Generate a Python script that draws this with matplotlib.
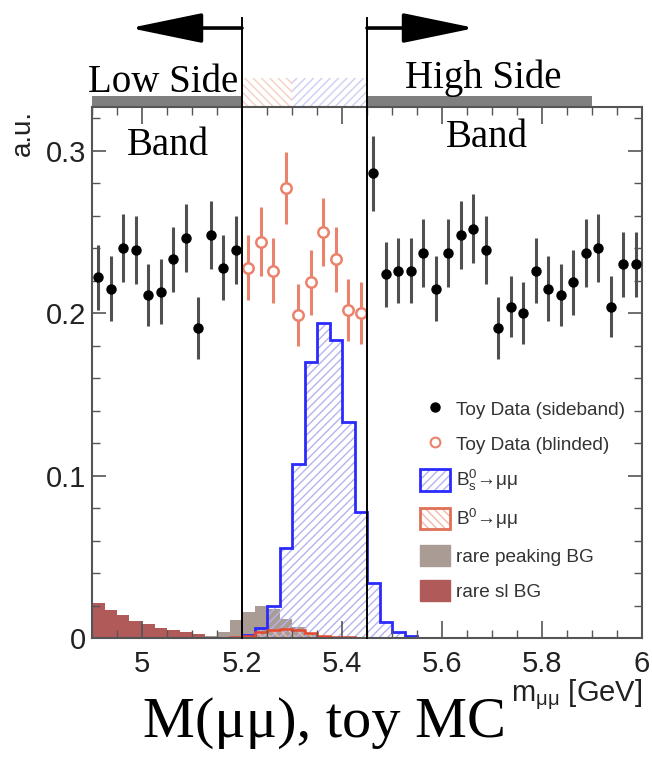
import numpy as np
import matplotlib.pyplot as plt
from matplotlib.patches import Patch, Rectangle
from matplotlib.lines import Line2D

# ---- data ----
edges = np.round(np.arange(4.9, 6.0001, 0.025), 4)    # 44 bins
centres = 0.5 * (edges[:-1] + edges[1:])

# toy data, sidebands (12 low + 22 high bins) and blinded region (10 bins)
low_side = [0.222, 0.215, 0.240, 0.239, 0.211, 0.213, 0.233, 0.246, 0.191, 0.248, 0.228, 0.239]
low_err = [0.020, 0.020, 0.021, 0.021, 0.019, 0.020, 0.020, 0.021, 0.019, 0.021, 0.020, 0.021]
blinded = [0.228, 0.244, 0.226, 0.277, 0.199, 0.219, 0.250, 0.233, 0.202, 0.200]
blinded_err = [0.020, 0.021, 0.020, 0.022, 0.019, 0.020, 0.021, 0.020, 0.019, 0.019]
high_side = [0.286, 0.224, 0.226, 0.226, 0.237, 0.215, 0.237, 0.248, 0.252, 0.239, 0.191,
             0.204, 0.200, 0.226, 0.215, 0.211, 0.219, 0.237, 0.240, 0.204, 0.230, 0.230]
high_err = [0.023, 0.020, 0.020, 0.020, 0.021, 0.020, 0.021, 0.021, 0.021, 0.021, 0.019,
            0.019, 0.019, 0.020, 0.020, 0.019, 0.020, 0.021, 0.021, 0.019, 0.020, 0.020]

# MC templates, one value per bin
bs_mumu = [0, 0, 0, 0, 0, 0, 0, 0, 0, 0, 0, 0,
           0.002, 0.006, 0.0197, 0.0552, 0.1069, 0.1697, 0.194, 0.1834, 0.1331, 0.0777,
           0.0336, 0.010, 0.0035, 0.001, 0, 0, 0, 0, 0, 0, 0,
           0, 0, 0, 0, 0, 0, 0, 0, 0, 0, 0]
bd_mumu = [0, 0, 0, 0, 0, 0, 0, 0, 0, 0, 0, 0.0005,
           0.001, 0.0035, 0.005, 0.0053, 0.0047, 0.003, 0.0015, 0.0008, 0.0004, 0.0002,
           0, 0, 0, 0, 0, 0, 0, 0, 0, 0, 0,
           0, 0, 0, 0, 0, 0, 0, 0, 0, 0, 0]
rare_peak = [0, 0, 0, 0, 0, 0, 0, 0, 0, 0.001, 0.0039, 0.011,
             0.016, 0.0197, 0.018, 0.012, 0.0065, 0.003, 0.0015, 0.0007, 0, 0,
             0, 0, 0, 0, 0, 0, 0, 0, 0, 0, 0,
             0, 0, 0, 0, 0, 0, 0, 0, 0, 0, 0]
rare_sl = [0.0213, 0.0172, 0.0142, 0.0107, 0.0084, 0.0064, 0.0049, 0.0035, 0.0025, 0.0015, 0.0011, 0.0009,
           0.0008, 0.0008, 0.0007, 0.0007, 0.0006, 0.0006, 0.0006, 0.0005, 0.0005, 0.0005,
           0.0005, 0.0004, 0.0004, 0.0004, 0.0004, 0.0004, 0.0003, 0.0003, 0.0003, 0.0003, 0.0003,
           0.0003, 0.0003, 0.0003, 0.0003, 0.0003, 0.0003, 0.0003, 0.0003, 0.0003, 0.0003, 0.0003]

xticks = [5.0, 5.2, 5.4, 5.6, 5.8, 6.0]
xtick_labels = ['5', '5.2', '5.4', '5.6', '5.8', '6']
yticks = [0.0, 0.1, 0.2, 0.3]
ytick_labels = ['0', '0.1', '0.2', '0.3']
cut_low, cut_high = 5.2, 5.45

# ---- style ----
plt.rcParams['font.family'] = ['Liberation Sans', 'DejaVu Sans']
plt.rcParams['mathtext.fontset'] = 'custom'
plt.rcParams['mathtext.rm'] = 'Liberation Sans'
plt.rcParams['mathtext.it'] = 'Liberation Sans:italic'
plt.rcParams['hatch.linewidth'] = 1.0

W, H = 652, 760
def fx(px):
    return px / W
def fy(py):
    return 1 - py / H

fig = plt.figure(figsize=(6.52, 7.6), dpi=100)
ax = fig.add_axes([fx(92), fy(638), 550 / W, 531 / H])

c_sl = '#b15a5a'
c_peak = '#aa9c95'
c_bs = '#2a2aff'
c_bs_hatch = '#b4b4ee'
c_bd = '#e8472c'
c_bd_hatch = '#f2b8a8'
c_blind = '#ea826c'

ax.stairs(rare_sl, edges, fill=True, color=c_sl, lw=0)
ax.stairs(rare_peak, edges, fill=True, color=c_peak, lw=0)
ax.stairs(bs_mumu, edges, fill=True, facecolor='none', edgecolor=c_bs_hatch, hatch='////', lw=0)
ax.stairs(bs_mumu, edges, color=c_bs, lw=2)
ax.stairs(bd_mumu, edges, fill=True, facecolor='none', edgecolor=c_bd_hatch, hatch='\\\\\\\\', lw=0)
ax.stairs(bd_mumu, edges, color=c_bd, lw=1.8)

n_low = len(low_side)
n_blind = len(blinded)
x_low = centres[:n_low]
x_blind = centres[n_low:n_low + n_blind]
x_high = centres[n_low + n_blind:]

ax.errorbar(x_low, low_side, yerr=low_err, fmt='o', color='black', ms=6.5,
            ecolor='#505050', elinewidth=2.2, capsize=0, zorder=5)
ax.errorbar(x_high, high_side, yerr=high_err, fmt='o', color='black', ms=6.5,
            ecolor='#505050', elinewidth=2.2, capsize=0, zorder=5, clip_on=False)
ax.errorbar(x_blind, blinded, yerr=blinded_err, fmt='o', color=c_blind, mfc='white',
            mec=c_blind, mew=1.8, ms=7.5, ecolor=c_blind, elinewidth=2.2, capsize=0, zorder=5)

# cut lines reaching above the frame
y_top = 0.3815
for xc in (cut_low, cut_high):
    ax.plot([xc, xc], [0, y_top], color='black', lw=1.4, clip_on=False, zorder=6)

# side band bars and blinded box above the frame
ax.add_patch(Rectangle((4.9, 0.3268), 0.3, 0.0068, color='#7f7f7f', clip_on=False, lw=0))
ax.add_patch(Rectangle((5.45, 0.3268), 0.45, 0.0068, color='#7f7f7f', clip_on=False, lw=0))
ax.add_patch(Rectangle((5.2, 0.3268), 0.1, 0.0178, facecolor='none', edgecolor='#f6cfc4',
                       hatch='\\\\\\\\', lw=0, clip_on=False))
ax.add_patch(Rectangle((5.3, 0.3268), 0.15, 0.0178, facecolor='none', edgecolor='#cfcff6',
                       hatch='////', lw=0, clip_on=False))

# arrows
ay = 0.3754
arrow_style = '-|>,head_length=3.0,head_width=0.62'
ax.annotate('', xy=(4.976, ay), xytext=(cut_low, ay), annotation_clip=False,
            arrowprops=dict(arrowstyle=arrow_style, mutation_scale=15,
                            lw=2.6, color='black', shrinkA=0, shrinkB=0))
ax.annotate('', xy=(5.666, ay), xytext=(cut_high, ay), annotation_clip=False,
            arrowprops=dict(arrowstyle=arrow_style, mutation_scale=15,
                            lw=2.6, color='black', shrinkA=0, shrinkB=0))

ax.set_xlim(4.9, 6.0)
ax.set_ylim(0, 0.3268)
ax.set_xticks(xticks)
ax.set_xticklabels(xtick_labels)
ax.set_yticks(yticks)
ax.set_yticklabels(ytick_labels)
ax.set_xticks(np.arange(4.9, 6.0001, 0.05), minor=True)
ax.set_yticks(np.arange(0, 0.3268, 0.02), minor=True)
ax.tick_params(which='both', direction='in', top=True, right=True, colors='#555555',
               labelcolor='#222222', labelsize=21)
ax.tick_params(axis='x', which='major', length=12, width=1.2, pad=9)
ax.tick_params(axis='y', which='major', length=10, width=1.2, pad=4)
ax.tick_params(which='minor', length=6, width=1.0)
for s in ax.spines.values():
    s.set_color('#555555')
    s.set_linewidth(1.5)

# legend
handles = [
    Line2D([], [], ls='none', marker='o', color='black', ms=6.5),
    Line2D([], [], ls='none', marker='o', mfc='white', mec=c_blind, mew=1.5, ms=7),
    (Patch(facecolor='white', edgecolor=c_bs_hatch, hatch='////', lw=0),
     Patch(facecolor='none', edgecolor=c_bs, lw=2)),
    (Patch(facecolor='white', edgecolor=c_bd_hatch, hatch='\\\\\\\\', lw=0),
     Patch(facecolor='none', edgecolor='#e07056', lw=2)),
    Patch(facecolor=c_peak, edgecolor=c_peak),
    Patch(facecolor=c_sl, edgecolor=c_sl),
]
labels = ['Toy Data (sideband)', 'Toy Data (blinded)', r'B$_{\rm s}^{0}$→μμ', r'B$^{0}$→μμ',
          'rare peaking BG', 'rare sl BG']
fig.legend(handles, labels, loc='upper left', bbox_to_anchor=(fx(420), fy(398)),
           frameon=False, fontsize=13.7, handlelength=1.6, handleheight=1.35,
           handletextpad=0.3, labelspacing=0.72, borderpad=0, borderaxespad=0,
           labelcolor='#333333')

# axis titles
fig.text(fx(642), fy(701), r'm$_{\mathregular{μμ}}$ [GeV]', ha='right', va='baseline', fontsize=21,
         color='#222222')
fig.text(fx(36), fy(110), 'a.u.', rotation=90, ha='right', va='top', fontsize=20, color='#222222')

# hand written annotations
hand = ['Liberation Serif', 'DejaVu Serif']
fig.text(fx(163), fy(92), 'Low Side', ha='center', va='baseline', fontsize=28, family=hand)
fig.text(fx(483), fy(88), 'High Side', ha='center', va='baseline', fontsize=28, family=hand)
fig.text(fx(168), fy(155), 'Band', ha='center', va='baseline', fontsize=28, family=hand)
fig.text(fx(487), fy(147), 'Band', ha='center', va='baseline', fontsize=28, family=hand)
fig.text(fx(324), fy(737), 'M(μμ), toy MC', ha='center', va='baseline', fontsize=42, family=hand)

fig.savefig('out.png', dpi=100)
